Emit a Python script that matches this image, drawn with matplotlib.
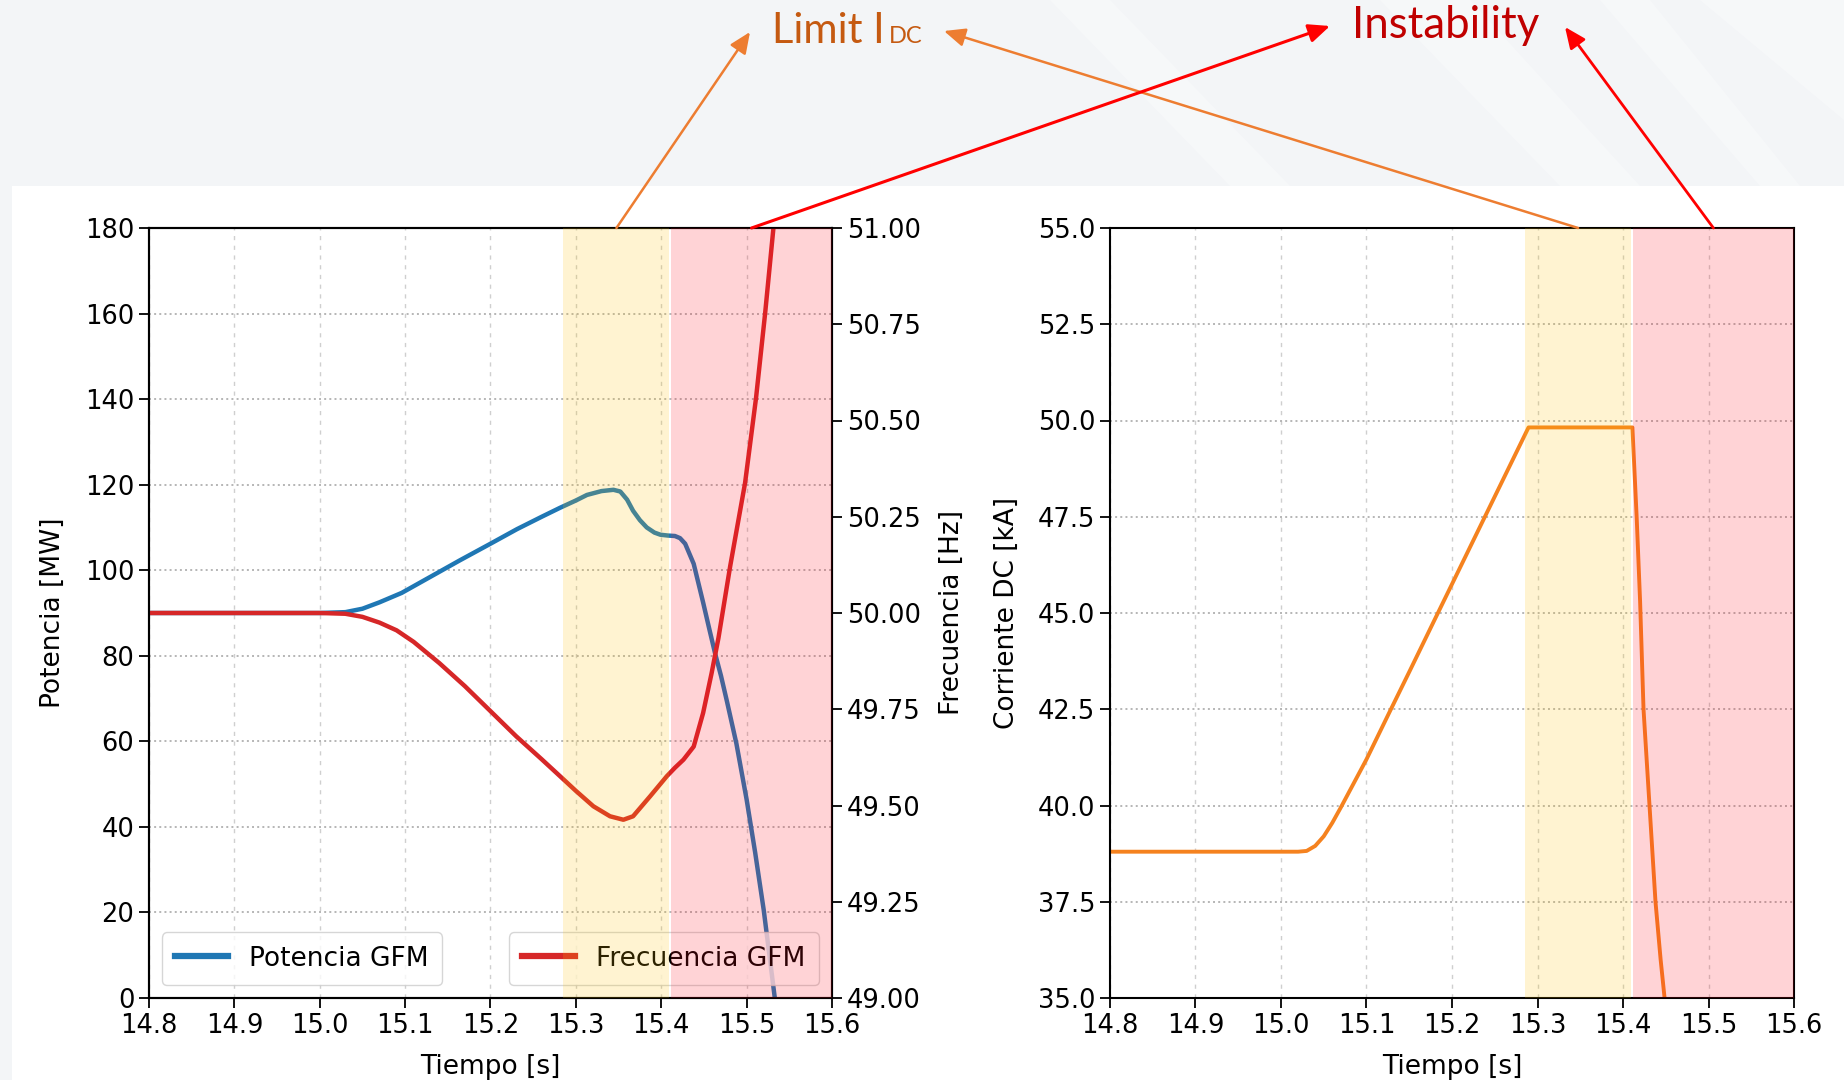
import matplotlib
matplotlib.use("Agg")
import matplotlib.pyplot as plt
from matplotlib.patches import Rectangle, Polygon

# ---------------- data ----------------
t_pot = [14.80, 15.00, 15.03, 15.05, 15.07, 15.096, 15.13, 15.164, 15.20, 15.231,
         15.26, 15.2815, 15.30, 15.313, 15.33, 15.344, 15.352, 15.36, 15.367, 15.375,
         15.383, 15.392, 15.399, 15.408, 15.416, 15.422, 15.428, 15.438, 15.449, 15.456,
         15.463, 15.47, 15.477, 15.488, 15.50, 15.51, 15.52, 15.533, 15.536]
potencia = [90.0, 90.0, 90.2, 91.0, 92.5, 94.7, 98.5, 102.3, 106.2, 109.6,
            112.5, 114.6, 116.3, 117.6, 118.5, 118.8, 118.4, 116.5, 113.9, 111.7,
            110.0, 108.8, 108.3, 108.1, 108.0, 107.5, 106.2, 101.5, 92.5, 86.5,
            80.6, 75.3, 69.3, 59.5, 46.4, 34.0, 20.6, 0.0, -5.0]

t_freq = [14.80, 15.00, 15.03, 15.05, 15.07, 15.09, 15.11, 15.14, 15.17, 15.20,
          15.23, 15.26, 15.2815, 15.30, 15.3205, 15.34, 15.3556, 15.367, 15.387, 15.4065,
          15.416, 15.426, 15.438, 15.449, 15.459, 15.467, 15.4807, 15.4982, 15.511, 15.5217,
          15.5314, 15.535]
frecuencia = [50.0, 50.0, 49.998, 49.99, 49.975, 49.955, 49.925, 49.87, 49.81, 49.745,
              49.68, 49.62, 49.576, 49.538, 49.498, 49.472, 49.463, 49.472, 49.524, 49.576,
              49.598, 49.619, 49.653, 49.740, 49.844, 49.935, 50.121, 50.338, 50.558, 50.779,
              51.0, 51.08]

t_idc = [14.80, 15.00, 15.02, 15.03, 15.04, 15.05, 15.06, 15.07, 15.10, 15.127,
         15.15, 15.18, 15.22, 15.2565, 15.2895, 15.35, 15.411, 15.416, 15.420, 15.424,
         15.431, 15.438, 15.444, 15.449, 15.455]
corriente = [38.8, 38.8, 38.8, 38.82, 38.95, 39.2, 39.55, 39.95, 41.2, 42.43,
             43.47, 44.84, 46.66, 48.32, 49.82, 49.82, 49.82, 47.48, 45.3, 42.5,
             40.0, 37.5, 36.0, 34.92, 33.5]

zona_limite = [15.2855, 15.4095]
zona_inestable = [15.4115, 15.6]

x_ticks = [14.8, 14.9, 15.0, 15.1, 15.2, 15.3, 15.4, 15.5, 15.6]
pot_ticks = [0, 20, 40, 60, 80, 100, 120, 140, 160, 180]
freq_ticks = [49.00, 49.25, 49.50, 49.75, 50.00, 50.25, 50.50, 50.75, 51.00]
idc_ticks = [35.0, 37.5, 40.0, 42.5, 45.0, 47.5, 50.0, 52.5, 55.0]

# ---------------- figure ----------------
W, H = 1844, 1080
fig = plt.figure(figsize=(W / 100, H / 100), dpi=100, facecolor="#F3F5F7")

# decorative light streaks in the header band
for pts in [[(1050, 1080), (1110, 1080), (1290, 894), (1230, 894)],
            [(1380, 1080), (1470, 1080), (1640, 894), (1560, 894)],
            [(1600, 1080), (1650, 1080), (1800, 894), (1760, 894)],
            [(1700, 1080), (1844, 1080), (1844, 960)]]:
    fig.patches.append(Polygon([(x / W, y / H) for x, y in pts], closed=True,
                               transform=fig.transFigure, facecolor="white",
                               alpha=0.3, lw=0, zorder=-3))
fig.patches.append(Rectangle((12 / W, 0), 1, (H - 186) / H, transform=fig.transFigure,
                             facecolor="white", lw=0, zorder=-2))

FS = 19
TFS = 18.5
plt.rcParams['font.family'] = ['DejaVu Sans']

ax1 = fig.add_axes([149 / W, (H - 998) / H, (832 - 149) / W, (998 - 228) / H])
ax3 = fig.add_axes([1110 / W, (H - 998) / H, (1794 - 1110) / W, (998 - 228) / H])
ax2 = ax1.twinx()

c_blue = "#1f77b4"
c_red = "#d62728"
c_orange = "#f5821f"

ax1.plot(t_pot, potencia, color=c_blue, lw=3.2, label="Potencia GFM")
ax2.plot(t_freq, frecuencia, color=c_red, lw=3.2, label="Frecuencia GFM")
ax3.plot(t_idc, corriente, color=c_orange, lw=2.8)

ax1.set_xlim(14.8, 15.6)
ax1.set_ylim(0, 180)
ax2.set_ylim(49.0, 51.0)
ax3.set_xlim(14.8, 15.6)
ax3.set_ylim(35.0, 55.0)

ax1.set_xticks(x_ticks)
ax1.set_xticklabels([f"{v:.1f}" for v in x_ticks])
ax3.set_xticks(x_ticks)
ax3.set_xticklabels([f"{v:.1f}" for v in x_ticks])
ax1.set_yticks(pot_ticks)
ax2.set_yticks(freq_ticks)
ax2.set_yticklabels([f"{v:.2f}" for v in freq_ticks])
ax3.set_yticks(idc_ticks)
ax3.set_yticklabels([f"{v:.1f}" for v in idc_ticks])

for ax in (ax1, ax3):
    ax.grid(axis="x", linestyle=(0, (3, 4)), color="#cfcfcf", lw=1.0)
    ax.grid(axis="y", linestyle=":", color="#b5b5b5", lw=1.4)
    ax.set_axisbelow(True)

for ax in (ax1, ax2, ax3):
    ax.tick_params(labelsize=TFS, length=7, width=1.3, color="black")
    for s in ax.spines.values():
        s.set_linewidth(1.5)

ax1.set_xlabel("Tiempo [s]", fontsize=FS, labelpad=11)
ax3.set_xlabel("Tiempo [s]", fontsize=FS, labelpad=11)
ax1.set_ylabel("Potencia [MW]", fontsize=FS, labelpad=14)
ax2.set_ylabel("Frecuencia [Hz]", fontsize=FS, labelpad=13)
ax3.set_ylabel("Corriente DC [kA]", fontsize=FS, labelpad=13)

leg1 = ax1.legend(loc="lower left", fontsize=FS, handlelength=2.0, borderpad=0.5)
leg2 = ax2.legend(loc="lower right", fontsize=FS, handlelength=2.0, borderpad=0.5)
for lg in (leg1, leg2):
    for h in lg.get_lines():
        h.set_linewidth(4.5)

# highlighted zones drawn on top (semi-transparent)
ax2.axvspan(*zona_limite, color="#FFC000", alpha=0.18, lw=0, zorder=10)
ax2.axvspan(*zona_inestable, color="#FF1020", alpha=0.18, lw=0, zorder=10)
ax3.axvspan(*zona_limite, color="#FFC000", alpha=0.18, lw=0, zorder=10)
ax3.axvspan(*zona_inestable, color="#FF1020", alpha=0.18, lw=0, zorder=10)

# ---------------- annotations ----------------
c_lim_txt = "#C55A11"
c_lim_arr = "#ED7D31"
c_ins = "#C00000"
c_ins_arr = "#FF0000"

fig.text(772 / W, (H - 43) / H, "Limit I", fontsize=30, color=c_lim_txt,
         family="Lato", ha="left", va="baseline")
fig.text(889 / W, (H - 43) / H, "DC", fontsize=17, color=c_lim_txt,
         family="Lato", ha="left", va="baseline")
fig.text(1352 / W, (H - 38) / H, "Instability", fontsize=31.5, color=c_ins,
         family="Lato", ha="left", va="baseline")

mid_lim = sum(zona_limite) / 2
mid_ins = (zona_inestable[0] + zona_inestable[1]) / 2

def arrow(ax, xdata, tip, color, lw):
    ax.annotate("", xy=(tip[0], H - tip[1]), xycoords="figure pixels",
                xytext=(xdata, 1.0), textcoords=("data", "axes fraction"),
                arrowprops=dict(arrowstyle="-|>,head_length=0.8,head_width=0.35",
                                color=color, lw=lw, mutation_scale=16,
                                shrinkA=0, shrinkB=0),
                annotation_clip=False, zorder=20)

arrow(ax2, mid_lim, (750, 32), c_lim_arr, 1.8)
arrow(ax3, mid_lim, (944, 31), c_lim_arr, 1.8)
arrow(ax2, mid_ins, (1330, 26), c_ins_arr, 2.2)
arrow(ax3, mid_ins, (1565, 27), c_ins_arr, 2.0)

fig.savefig("out.png", dpi=100, facecolor=fig.get_facecolor())
